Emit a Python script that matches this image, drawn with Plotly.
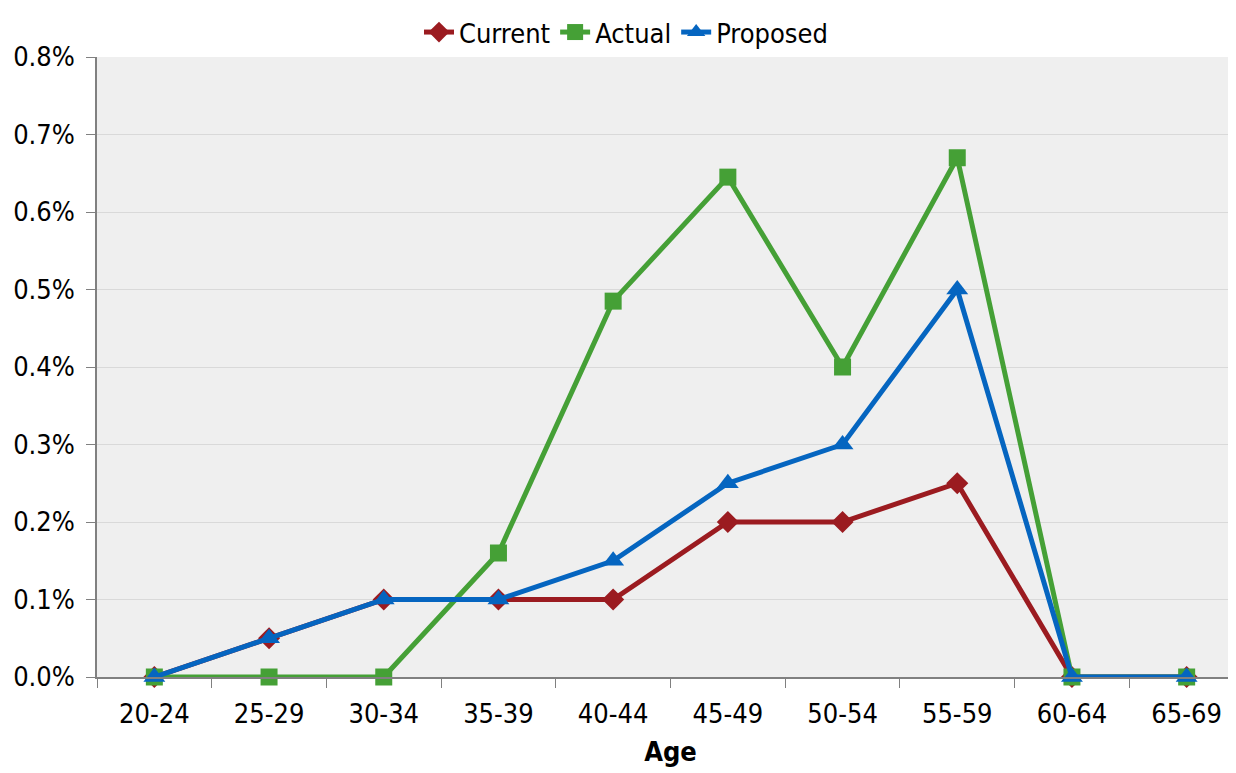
import plotly.graph_objects as go

ages = ["20-24", "25-29", "30-34", "35-39", "40-44", "45-49", "50-54", "55-59", "60-64", "65-69"]
current = [0.0, 0.0005, 0.001, 0.001, 0.001, 0.002, 0.002, 0.0025, 0.0, 0.0]
actual = [0.0, 0.0, 0.0, 0.0016, 0.00485, 0.00645, 0.004, 0.0067, 0.0, 0.0]
proposed = [0.0, 0.0005, 0.001, 0.001, 0.0015, 0.0025, 0.003, 0.005, 0.0, 0.0]

FONT = "DejaVu Sans Condensed, Liberation Sans Narrow, Arial Narrow, Liberation Sans, sans-serif"
FS = 27

fig = go.Figure()
fig.add_trace(go.Scatter(x=ages, y=current, name="Current", mode="lines+markers",
                         line=dict(color="#9b1b20", width=5),
                         marker=dict(symbol="diamond", size=17, color="#9b1b20"),
                         cliponaxis=False))
fig.add_trace(go.Scatter(x=ages, y=actual, name="Actual", mode="lines+markers",
                         line=dict(color="#45a036", width=5),
                         marker=dict(symbol="square", size=17, color="#45a036"),
                         cliponaxis=False))
fig.add_trace(go.Scatter(x=ages, y=proposed, name="Proposed", mode="lines+markers",
                         line=dict(color="#0565c0", width=5),
                         marker=dict(symbol="triangle-up", size=19, color="#0565c0"),
                         cliponaxis=False))

fig.update_layout(
    width=1236, height=773,
    margin=dict(l=89, r=0, t=49, b=104, autoexpand=False),
    paper_bgcolor="white",
    plot_bgcolor="#efefef",
    font=dict(family=FONT, size=FS, color="black"),
    legend=dict(orientation="h", xref="container", x=0.5, xanchor="center",
                yref="container", y=1.0, yanchor="top",
                font=dict(size=FS), itemwidth=30, tracegroupgap=0,
                bgcolor="rgba(0,0,0,0)"),
    xaxis=dict(
        type="category", range=[-0.5, 9.5], automargin=False,
        tickson="boundaries", ticks="outside", ticklen=9, tickcolor="#808080",
        showline=True, linecolor="#808080", linewidth=1.5,
        showgrid=False, ticklabelstandoff=12,
        title=dict(text="<b>Age</b>", font=dict(size=FS), standoff=14),
        tickfont=dict(size=FS),
    ),
    yaxis=dict(
        range=[0, 0.008], dtick=0.001, tickformat=".1%", automargin=False,
        ticks="outside", ticklen=9, tickcolor="#808080",
        showline=True, linecolor="#808080", linewidth=1.5,
        showgrid=True, gridcolor="#d9d9d9", gridwidth=1,
        zeroline=False, ticklabelstandoff=6,
        tickfont=dict(size=FS),
    ),
)

fig.write_html("out.html")
